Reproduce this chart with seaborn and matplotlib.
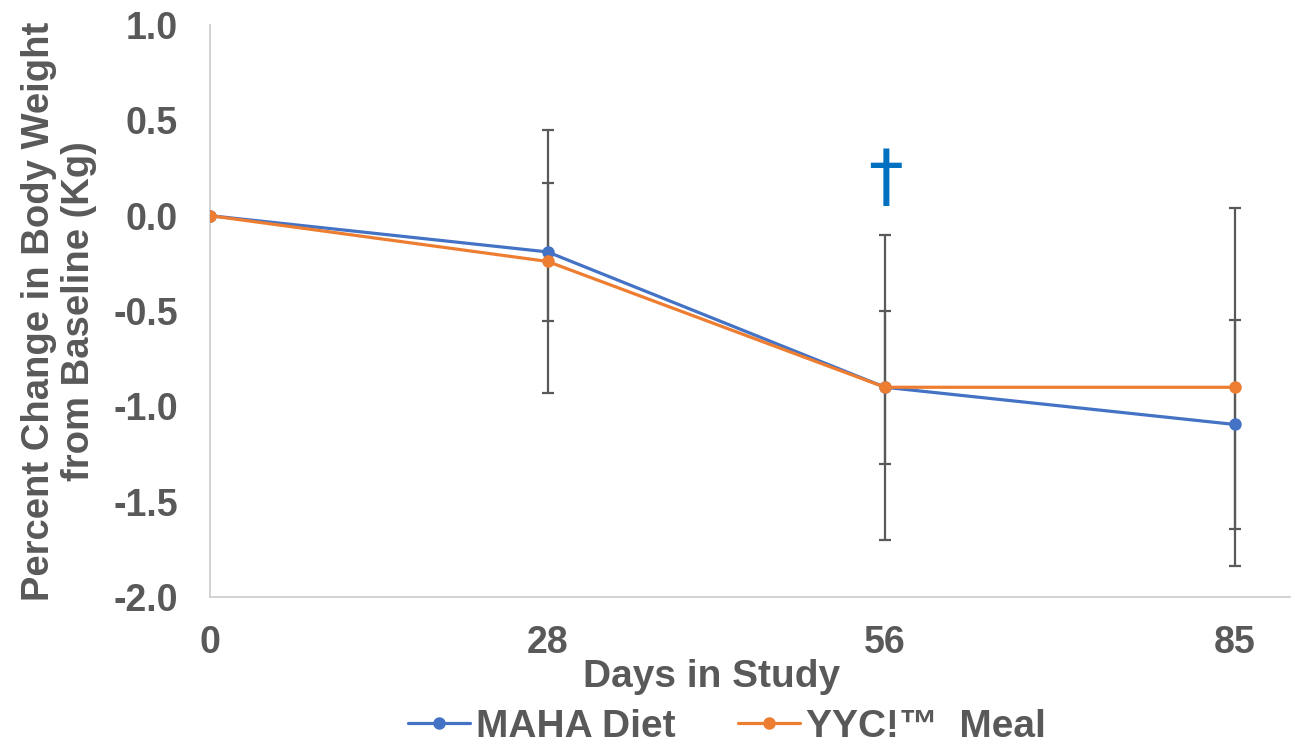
import numpy as np
import pandas as pd
import matplotlib
matplotlib.use("Agg")
import matplotlib.pyplot as plt
import seaborn as sns

days = [0, 28, 56, 85]
maha_mean = [0.0, -0.19, -0.90, -1.095]
maha_err = [0.0, 0.36, 0.40, 0.55]
yyc_mean = [0.0, -0.24, -0.90, -0.90]
yyc_err = [0.0, 0.69, 0.80, 0.94]
series_names = ["MAHA Diet", "YYC!\u2122  Meal"]
y_ticks = [1.0, 0.5, 0.0, -0.5, -1.0, -1.5, -2.0]

blue = "#4472C4"
orange = "#ED7D31"
grey_text = "#595959"

sns.set_theme(style="white")
plt.rcParams["font.family"] = ["Liberation Sans", "DejaVu Sans"]
plt.rcParams["font.weight"] = "bold"

df = pd.DataFrame({
    "day": days * 2,
    "value": maha_mean + yyc_mean,
    "group": [series_names[0]] * 4 + [series_names[1]] * 4,
})

fig = plt.figure(figsize=(12.93, 7.46), dpi=100)
ax = fig.add_axes([210 / 1293, 1 - 597 / 746, 1080 / 1293, 572 / 746])

# error bars sit behind the lines
for mean, err in [(maha_mean, maha_err), (yyc_mean, yyc_err)]:
    ax.errorbar(days, mean, yerr=err, fmt="none", ecolor=grey_text,
                elinewidth=1.6, capsize=4, capthick=1.6, zorder=1)

sns.lineplot(data=df, x="day", y="value", hue="group", palette=[blue, orange],
             marker="o", markersize=9, markeredgewidth=0, linewidth=2.3,
             ax=ax, zorder=3)

ax.text(56, 0.19, "\u2020", color="#0070C0", fontsize=50, ha="center",
        va="center", family=["DejaVu Sans"], fontweight="normal")

ax.set_xlim(0, 89.6)
ax.set_ylim(-2.0, 1.0)
ax.set_xticks(days)
ax.set_xticklabels([str(d) for d in days])
ax.set_yticks(y_ticks)
ax.set_yticklabels([f"{t:.1f}" for t in y_ticks])
ax.tick_params(axis="both", length=0, labelsize=27, labelcolor=grey_text)
ax.tick_params(axis="y", pad=23)
ax.tick_params(axis="x", pad=20)

for lbl in ax.get_xticklabels() + ax.get_yticklabels():
    lbl.set_fontweight("bold")

for side in ["top", "right"]:
    ax.spines[side].set_visible(False)
for side in ["left", "bottom"]:
    ax.spines[side].set_color("#D0D0D0")
    ax.spines[side].set_linewidth(1.3)

ax.set_xlabel("Days in Study", fontsize=28, fontweight="bold", color=grey_text, labelpad=0)
ax.xaxis.set_label_coords((712 - 210) / 1080, -0.108)
ax.xaxis.label.set_va("top")
ax.set_ylabel("Percent Change in Body Weight\nfrom Baseline (Kg)", fontsize=27.5,
              fontweight="bold", color=grey_text, labelpad=12, linespacing=1.12)

handles, labels = ax.get_legend_handles_labels()
ax.get_legend().remove()
leg = fig.legend(handles, labels, loc="center", bbox_to_anchor=(727 / 1293, 1 - 727 / 746),
                 ncol=2, frameon=False, fontsize=28, handlelength=1.6,
                 handletextpad=0.15, columnspacing=1.6, borderpad=0)
for t in leg.get_texts():
    t.set_color(grey_text)
    t.set_fontweight("bold")

fig.savefig("out.png", dpi=100)
